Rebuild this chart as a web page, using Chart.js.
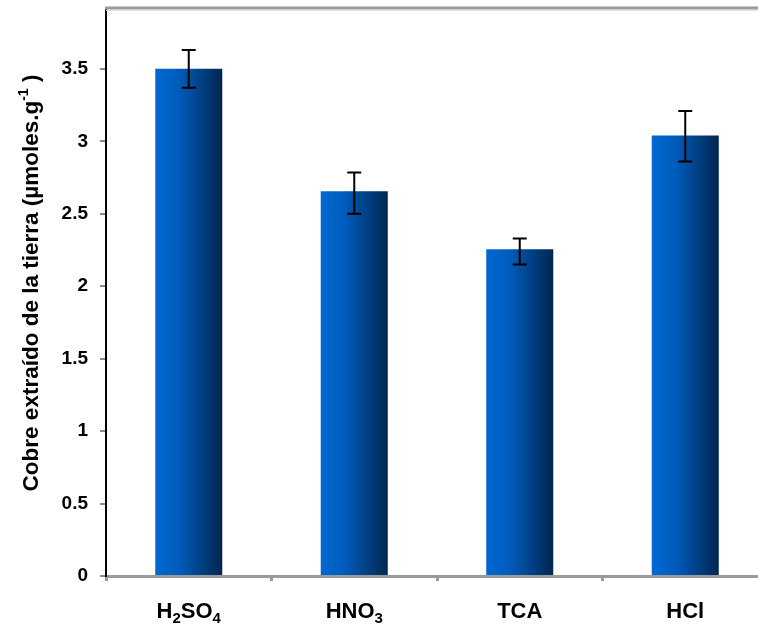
<!DOCTYPE html>
<html lang="es">
  <head>
    <meta charset="UTF-8" />
    <title>Cobre extraído de la tierra</title>
    <script src="https://cdn.jsdelivr.net/npm/chart.js"></script>
    <style>
      html, body { margin: 0; padding: 0; background: #fff; overflow: hidden; }
      #wrap { width: 770px; height: 624px; }
    </style>
  </head>
  <body>
    <div id="wrap"><canvas id="myChart" width="770" height="624"></canvas></div>

    <script>
      // datos
      var categories = ["H2SO4", "HNO3", "TCA", "HCl"];
      var values = [3.5, 2.655, 2.255, 3.04];
      var errHigh = [3.63, 2.785, 2.33, 3.21];
      var errLow = [3.37, 2.5, 2.15, 2.86];
      var yTicks = [0, 0.5, 1, 1.5, 2, 2.5, 3, 3.5];

      var FONT = "'Liberation Sans', Arial, sans-serif";

      // degradado horizontal de cada barra
      function barGradient(context) {
        var chart = context.chart;
        var xScale = chart.scales.x;
        if (!xScale || !chart.chartArea) return "#0058b0";
        var cx = xScale.getPixelForValue(context.dataIndex);
        var w = (xScale.width / categories.length) * 0.405;
        var g = chart.ctx.createLinearGradient(cx - w / 2, 0, cx + w / 2, 0);
        g.addColorStop(0, "#0068d2");
        g.addColorStop(0.35, "#005cbc");
        g.addColorStop(0.7, "#003f82");
        g.addColorStop(1, "#00264f");
        return g;
      }

      // barras de error, borde superior, etiquetas con subíndices y título del eje
      var extras = {
        id: "extras",
        afterDatasetsDraw: function (chart) {
          var ctx = chart.ctx;
          var x = chart.scales.x;
          var y = chart.scales.y;
          ctx.save();
          ctx.strokeStyle = "#000";
          ctx.lineWidth = 2;
          for (var i = 0; i < values.length; i++) {
            var px = x.getPixelForValue(i);
            var top = y.getPixelForValue(errHigh[i]);
            var bot = y.getPixelForValue(errLow[i]);
            ctx.beginPath();
            ctx.moveTo(px, top);
            ctx.lineTo(px, bot);
            ctx.moveTo(px - 7, top);
            ctx.lineTo(px + 7, top);
            ctx.moveTo(px - 7, bot);
            ctx.lineTo(px + 7, bot);
            ctx.stroke();
          }
          ctx.restore();
        },
        afterDraw: function (chart) {
          var ctx = chart.ctx;
          var area = chart.chartArea;
          var x = chart.scales.x;
          ctx.save();

          // borde superior gris
          ctx.strokeStyle = "#e0e0e0";
          ctx.lineWidth = 1;
          ctx.beginPath();
          ctx.moveTo(area.left, area.top + 2.5);
          ctx.lineTo(chart.width, area.top + 2.5);
          ctx.stroke();
          ctx.strokeStyle = "#9a9a9a";
          ctx.lineWidth = 3;
          ctx.beginPath();
          ctx.moveTo(area.left - 1, area.top);
          ctx.lineTo(chart.width, area.top);
          ctx.stroke();

          // etiquetas del eje x (los dígitos van como subíndice)
          ctx.fillStyle = "#000";
          ctx.textBaseline = "alphabetic";
          ctx.textAlign = "left";
          for (var i = 0; i < categories.length; i++) {
            var label = categories[i];
            var parts = [];
            var total = 0;
            for (var k = 0; k < label.length; k++) {
              var ch = label[k];
              var sub = /[0-9]/.test(ch);
              ctx.font = "bold " + (sub ? 15 : 22) + "px " + FONT;
              var w = ctx.measureText(ch).width;
              parts.push({ ch: ch, sub: sub, w: w });
              total += w;
            }
            var sx = x.getPixelForValue(i) - total / 2;
            for (var k = 0; k < parts.length; k++) {
              ctx.font = "bold " + (parts[k].sub ? 15 : 22) + "px " + FONT;
              ctx.fillText(parts[k].ch, sx, parts[k].sub ? 623 : 618);
              sx += parts[k].w;
            }
          }

          // título del eje y con superíndice
          var t1 = "Cobre extraído de la tierra (µmoles.g";
          var sup = "-1";
          var t2 = " )";
          ctx.translate(38, 283);
          ctx.rotate(-Math.PI / 2);
          ctx.font = "bold 22.5px " + FONT;
          var w1 = ctx.measureText(t1).width;
          var w3 = ctx.measureText(t2).width;
          ctx.font = "bold 14px " + FONT;
          var w2 = ctx.measureText(sup).width;
          var start = -(w1 + w2 + w3) / 2;
          ctx.font = "bold 22.5px " + FONT;
          ctx.fillText(t1, start, 0);
          ctx.font = "bold 14px " + FONT;
          ctx.fillText(sup, start + w1, -10);
          ctx.font = "bold 22.5px " + FONT;
          ctx.fillText(t2, start + w1 + w2, 0);
          ctx.restore();
        },
      };

      var ctx = document.getElementById("myChart").getContext("2d");
      var myChart = new Chart(ctx, {
        type: "bar",
        data: {
          labels: categories,
          datasets: [
            {
              data: values,
              backgroundColor: barGradient,
              borderWidth: 0,
              barPercentage: 0.81,
              categoryPercentage: 0.5,
            },
          ],
        },
        options: {
          responsive: false,
          animation: false,
          layout: { padding: { top: 8, right: 2, left: 0, bottom: 0 } },
          plugins: {
            legend: { display: false },
            tooltip: { enabled: false },
          },
          scales: {
            x: {
              grid: {
                drawOnChartArea: false,
                drawTicks: true,
                tickLength: 5,
                color: "#9a9a9a",
                lineWidth: 3,
              },
              border: { display: true, color: "#9a9a9a", width: 3 },
              ticks: { display: false },
              afterFit: function (scale) {
                scale.height = 48;
                scale.paddingLeft = 0;
                scale.paddingRight = 0;
              },
            },
            y: {
              min: 0,
              max: 3.92,
              grid: {
                drawOnChartArea: false,
                tickLength: 6,
                color: "#8a8a8a",
                lineWidth: 2,
              },
              border: { display: true, color: "#000", width: 2 },
              afterBuildTicks: function (scale) {
                scale.ticks = yTicks.map(function (v) {
                  return { value: v };
                });
              },
              ticks: {
                padding: 12,
                color: "#000",
                font: { family: FONT, size: 19, weight: "bold" },
                callback: function (value) {
                  return String(Math.round(value * 10) / 10);
                },
              },
              afterFit: function (scale) {
                scale.width = 106;
                scale.paddingTop = 0;
                scale.paddingBottom = 0;
              },
            },
          },
        },
        plugins: [extras],
      });
    </script>
  </body>
</html>
